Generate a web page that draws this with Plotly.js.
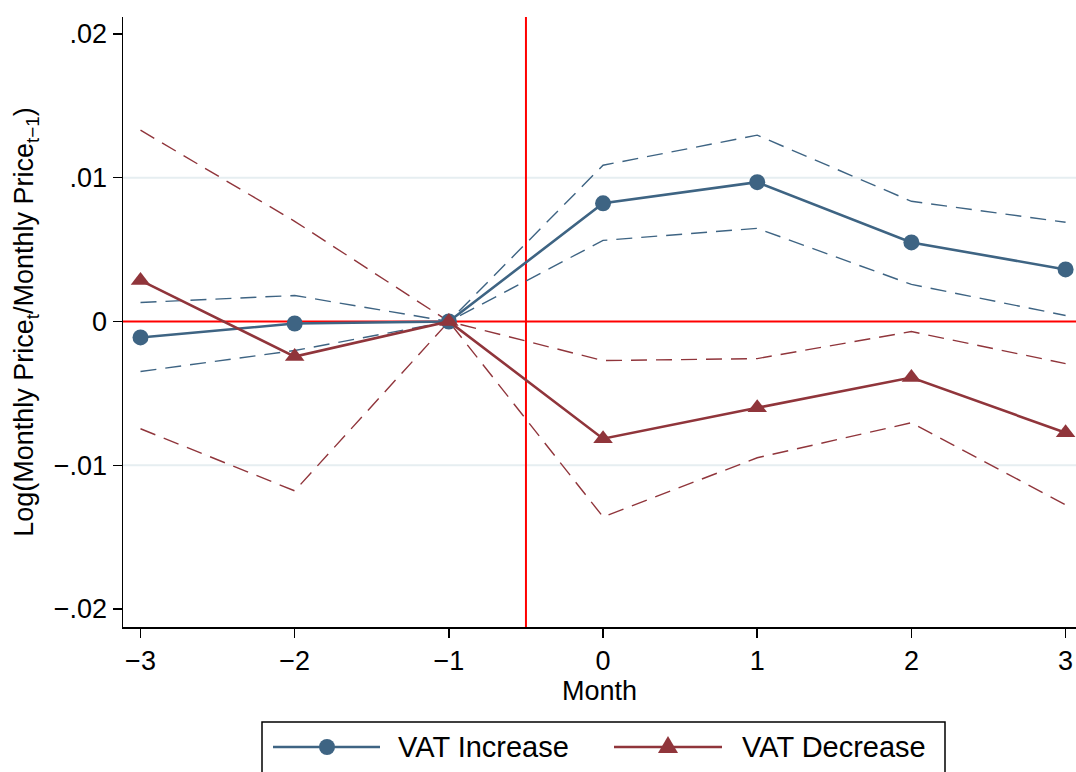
<!DOCTYPE html>
<html>
<head>
<meta charset="utf-8">
<script src="https://cdn.plot.ly/plotly-3.0.1.min.js"></script>
<style>html,body{margin:0;padding:0;background:#fff;}#chart{width:1076px;height:772px;}</style>
</head>
<body>
<div id="chart"></div>
<script>
const months = [-3, -2, -1, 0, 1, 2, 3];
const incEst = [-0.00111, -0.00014, 0, 0.00822, 0.00969, 0.0055, 0.00362];
const incHi  = [0.00132, 0.00181, 0, 0.01087, 0.01296, 0.00836, 0.0069];
const incLo  = [-0.00348, -0.00202, 0, 0.00564, 0.00648, 0.00258, 0.00042];
const decEst = [0.00286, -0.00244, 0, -0.00815, -0.006, -0.0039, -0.00774];
const decHi  = [0.01331, 0.00697, 0, -0.00272, -0.00258, -0.0007, -0.00293];
const decLo  = [-0.00746, -0.01178, 0, -0.01359, -0.00948, -0.00704, -0.01275];
const yTickVals = [-0.02, -0.01, 0, 0.01, 0.02];
const yTickText = ['\u2212.02', '\u2212.01', '0', '.01', '.02'];
const xTickText = ['\u22123', '\u22122', '\u22121', '0', '1', '2', '3'];
const seriesNames = ['VAT Increase', 'VAT Decrease'];

const blue = '#3e6483';
const red = '#90353b';
const font = 'Liberation Sans, Arial, sans-serif';

const dash = '16px,9px';
const traces = [
  {x: months, y: incHi, mode: 'lines', line: {color: blue, width: 1.4, dash: dash}, showlegend: false, hoverinfo: 'skip', cliponaxis: false},
  {x: months, y: incLo, mode: 'lines', line: {color: blue, width: 1.4, dash: dash}, showlegend: false, hoverinfo: 'skip', cliponaxis: false},
  {x: months, y: decHi, mode: 'lines', line: {color: red, width: 1.4, dash: dash}, showlegend: false, hoverinfo: 'skip', cliponaxis: false},
  {x: months, y: decLo, mode: 'lines', line: {color: red, width: 1.4, dash: dash}, showlegend: false, hoverinfo: 'skip', cliponaxis: false},
  {x: months, y: incEst, mode: 'lines+markers', name: seriesNames[0], line: {color: blue, width: 2.6}, marker: {color: blue, size: 16, symbol: 'circle'}, cliponaxis: false, showlegend: false},
  {x: months, y: decEst, mode: 'lines+markers', name: seriesNames[1], line: {color: red, width: 2.6}, marker: {color: red, size: 17, symbol: 'triangle-up'}, cliponaxis: false, showlegend: false}
];

// plot area in px: left 123, width 953, top 17, height 610
const px = v => (v - 123) / 953;
const py = v => (627 - v) / 610;
const legY = py(747);

const layout = {
  width: 1076, height: 772,
  margin: {l: 123, r: 0, t: 17, b: 145},
  paper_bgcolor: '#fff', plot_bgcolor: '#fff',
  font: {family: font, size: 27, color: '#000'},
  xaxis: {
    range: [-3.1135, 3.0675], tickvals: months, ticktext: xTickText,
    showgrid: false, zeroline: false, showline: true, linecolor: '#000', linewidth: 1.5,
    ticks: 'outside', ticklen: 9, tickwidth: 1.5, tickcolor: '#000',
    tickfont: {size: 27}, title: {text: 'Month', font: {size: 27}, standoff: 0}
  },
  yaxis: {
    range: [-0.02125, 0.02118], tickvals: yTickVals, ticktext: yTickText,
    showgrid: false, zeroline: false, showline: true, linecolor: '#000', linewidth: 1.5,
    ticks: 'outside', ticklen: 9, tickwidth: 1.5, tickcolor: '#000',
    tickfont: {size: 27}, title: {text: 'Log(Monthly Price<sub>t</sub>/Monthly Price<sub>t\u22121</sub>)', font: {size: 27}, standoff: 12}
  },
  shapes: [
    {type: 'line', xref: 'paper', x0: 0, x1: 1, yref: 'y', y0: 0.01, y1: 0.01, line: {color: '#e6eef1', width: 2}, layer: 'below'},
    {type: 'line', xref: 'paper', x0: 0, x1: 1, yref: 'y', y0: -0.01, y1: -0.01, line: {color: '#e6eef1', width: 2}, layer: 'below'},
    {type: 'line', xref: 'paper', x0: 0, x1: 1, yref: 'y', y0: 0, y1: 0, line: {color: '#ff0000', width: 2}, layer: 'below'},
    {type: 'line', xref: 'x', x0: -0.5, x1: -0.5, yref: 'paper', y0: 0, y1: 1, line: {color: '#ff0000', width: 2}, layer: 'below'},
    // legend box
    {type: 'rect', xref: 'paper', yref: 'paper', x0: px(262), x1: px(945), y0: py(722), y1: py(790), line: {color: '#000', width: 1.5}, fillcolor: 'rgba(0,0,0,0)'},
    {type: 'line', xref: 'paper', yref: 'paper', x0: px(273), x1: px(380), y0: legY, y1: legY, line: {color: blue, width: 2.6}},
    {type: 'circle', xref: 'paper', yref: 'paper', xsizemode: 'pixel', ysizemode: 'pixel', xanchor: px(327), yanchor: legY, x0: -8, x1: 8, y0: -8, y1: 8, fillcolor: blue, line: {color: blue, width: 0}},
    {type: 'line', xref: 'paper', yref: 'paper', x0: px(614), x1: px(722), y0: legY, y1: legY, line: {color: red, width: 2.6}},
    {type: 'path', xref: 'paper', yref: 'paper', xsizemode: 'pixel', ysizemode: 'pixel', xanchor: px(668), yanchor: legY, path: 'M -10 -6 L 10 -6 L 0 11 Z', fillcolor: red, line: {color: red, width: 0}}
  ],
  annotations: [
    {xref: 'paper', yref: 'paper', x: px(396), y: legY, xanchor: 'left', yanchor: 'middle', text: seriesNames[0], showarrow: false, font: {size: 29}},
    {xref: 'paper', yref: 'paper', x: px(740), y: legY, xanchor: 'left', yanchor: 'middle', text: seriesNames[1], showarrow: false, font: {size: 29}}
  ],
  showlegend: false
};

Plotly.newPlot('chart', traces, layout, {displayModeBar: false, staticPlot: true});
</script>
</body>
</html>
